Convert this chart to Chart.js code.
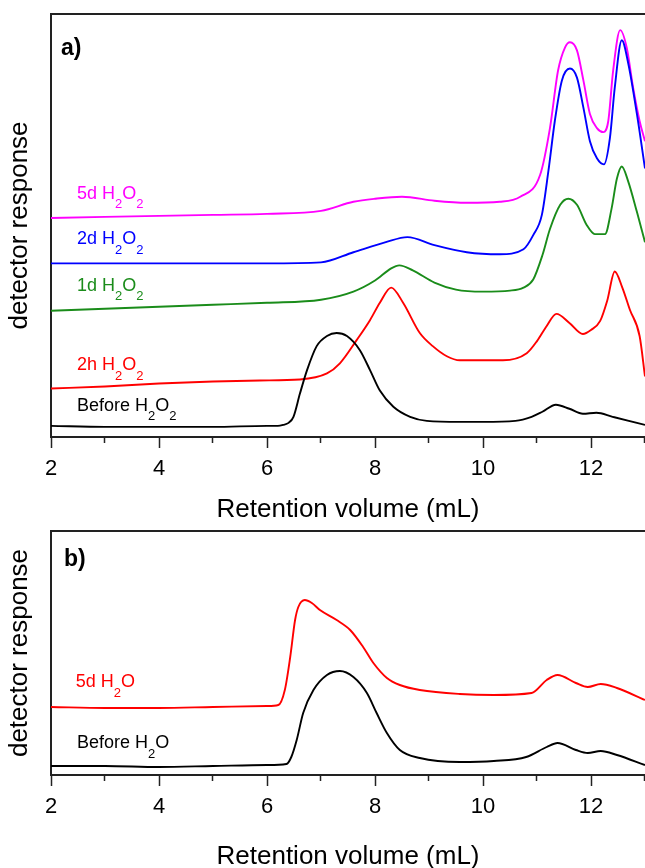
<!DOCTYPE html>
<html>
<head>
<meta charset="utf-8">
<script src="https://cdn.jsdelivr.net/npm/chart.js@4"></script>
<style>
  body { margin: 0; background: #fff; }
  canvas { position: absolute; left: 0; }
  #canvasA { top: 0; }
  #canvasB { top: 525px; }
</style>
</head>
<body>
<canvas id="canvasA" width="645" height="525"></canvas>
<canvas id="canvasB" width="645" height="343"></canvas>
<script>
// ---- panel a) : retention volume (mL) vs detector response (arb. units)
const xBeforeA = [2, 3, 4, 5, 6, 6.2, 6.3, 6.4, 6.49, 6.61, 6.74, 6.92, 7.11, 7.29, 7.48, 7.72, 7.91, 8.09, 8.34, 8.65, 8.96, 9.57, 10, 10.6, 10.9, 11.1, 11.35, 11.6, 11.85, 12.1, 12.4, 12.7, 13];
const yBeforeA = [11, 10, 10, 10, 11, 11, 12, 14, 20, 43, 66, 90, 100, 103, 100, 86, 66, 46, 30, 20, 16, 15, 15, 16, 20, 25, 32, 28, 23, 24, 20, 16, 12];

const x2hA = [2, 3, 4, 5, 5.87, 6.61, 7.11, 7.35, 7.66, 7.91, 8.09, 8.3, 8.52, 8.83, 9.07, 9.33, 9.57, 10.0, 10.37, 10.81, 11.0, 11.18, 11.36, 11.6, 11.85, 12.0, 12.17, 12.3, 12.44, 12.58, 12.72, 12.9, 13];
const y2hA = [48, 50, 53, 55, 56, 57, 63, 73, 96, 116, 133, 148, 133, 103, 90, 80, 76, 76, 76, 83, 95, 110, 122, 113, 102, 106, 115, 135, 164, 148, 126, 100, 60];

const x1dA = [2, 3, 4, 5, 6, 7, 7.6, 8.0, 8.3, 8.45, 8.7, 9.1, 9.5, 10, 10.5, 10.75, 10.93, 11.1, 11.24, 11.43, 11.58, 11.74, 11.92, 12.07, 12.26, 12.38, 12.48, 12.57, 12.69, 12.85, 13];
const y1dA = [125, 127, 129, 131, 133, 136, 144, 155, 167, 170, 165, 153, 146, 144, 145, 148, 156, 180, 206, 230, 236, 230, 210, 201, 201, 226, 256, 268, 253, 223, 193];

const x2dA = [2, 3, 4, 5, 6, 7, 7.6, 8.2, 8.6, 9.1, 9.7, 10.31, 10.75, 10.93, 11.09, 11.21, 11.33, 11.46, 11.61, 11.74, 11.86, 11.98, 12.11, 12.24, 12.35, 12.44, 12.57, 12.69, 12.85, 13];
const y2dA = [172, 172, 172, 172, 172, 173, 183, 193, 198, 190, 183, 181, 186, 200, 220, 263, 313, 353, 365, 356, 326, 293, 276, 270, 296, 346, 393, 370, 320, 266];

const x5dA = [2, 3, 4, 5, 6, 7, 7.6, 8.0, 8.5, 9.1, 9.7, 10.31, 10.69, 11.06, 11.24, 11.39, 11.52, 11.61, 11.74, 11.86, 11.98, 12.11, 12.23, 12.32, 12.41, 12.54, 12.66, 12.78, 12.9, 13];
const y5dA = [217, 218, 219, 220, 221, 224, 233, 236, 238, 234, 232, 233, 238, 260, 306, 363, 386, 391, 383, 353, 320, 306, 302, 313, 363, 403, 386, 346, 313, 293];

// ---- panel b)
const xBeforeB = [2, 3, 4, 5, 6, 6.36, 6.45, 6.55, 6.67, 6.86, 7.11, 7.35, 7.6, 7.85, 8.03, 8.22, 8.46, 8.83, 9.57, 10.2, 10.8, 11.18, 11.38, 11.72, 11.94, 12.18, 12.48, 13];
const yBeforeB = [9, 9, 8, 9, 10, 11, 18, 35, 62, 85, 100, 104, 98, 82, 62, 42, 25, 17, 13, 14, 18, 28, 32, 25, 22, 24, 20, 10];

const x5dB = [2, 3, 4, 5, 6, 6.21, 6.33, 6.43, 6.52, 6.58, 6.7, 6.83, 6.98, 7.29, 7.54, 7.78, 7.97, 8.22, 8.46, 8.83, 9.57, 10.2, 10.9, 11.18, 11.38, 11.72, 11.94, 12.18, 12.48, 13];
const y5dB = [68, 67, 67, 68, 69, 70, 85, 118, 155, 168, 175, 172, 165, 155, 145, 128, 112, 97, 90, 85, 81, 80, 82, 95, 100, 92, 88, 91, 87, 75];

const minorTicks = [3, 5, 7, 9, 11, 13];

// curve labels: text ("_2" = subscript), anchor x, anchor y
const labelsA = [
  { text: '5d H_2O_2', x: 2.48, y: 241, color: '#ff00ff' },
  { text: '2d H_2O_2', x: 2.48, y: 196, color: '#0000ff' },
  { text: '1d H_2O_2', x: 2.48, y: 150, color: '#1a8c1a' },
  { text: '2h H_2O_2', x: 2.48, y: 71, color: '#ff0000' },
  { text: 'Before H_2O_2', x: 2.48, y: 31, color: '#000000' }
];
const labelsB = [
  { text: '5d H_2O', x: 2.46, y: 93, color: '#ff0000' },
  { text: 'Before H_2O', x: 2.48, y: 32, color: '#000000' }
];

const pts = (xs, ys) => xs.map((v, i) => ({ x: v, y: ys[i] }));

const line = (xs, ys, color) => ({
  data: pts(xs, ys),
  borderColor: color,
  borderWidth: 1.9,
  pointRadius: 0,
  cubicInterpolationMode: 'monotone',
  fill: false
});

const FONT = '"Liberation Sans", Arial, sans-serif';

const decor = {
  id: 'decor',
  afterDraw(chart, args, opts) {
    const { ctx, chartArea: a } = chart;
    const x = chart.scales.x, y = chart.scales.y;
    ctx.save();
    // top frame line
    ctx.strokeStyle = '#222';
    ctx.lineWidth = 2;
    ctx.beginPath();
    ctx.moveTo(a.left - 1, a.top);
    ctx.lineTo(a.right, a.top);
    ctx.stroke();
    // minor ticks
    ctx.lineWidth = 1.5;
    ctx.beginPath();
    minorTicks.forEach(v => {
      const px = Math.round(x.getPixelForValue(v)) - 0.5;
      ctx.moveTo(px, a.bottom);
      ctx.lineTo(px, a.bottom + 6);
    });
    ctx.stroke();
    // panel letter
    ctx.fillStyle = '#000';
    ctx.textBaseline = 'middle';
    ctx.font = 'bold 23px ' + FONT;
    ctx.fillText(opts.letter, a.left + opts.letterDx, a.top + opts.letterDy);
    // curve labels with subscripts
    opts.labels.forEach(l => {
      let px = x.getPixelForValue(l.x);
      const py = y.getPixelForValue(l.y);
      ctx.fillStyle = l.color;
      l.text.split(/(_\d)/).forEach(seg => {
        if (!seg) return;
        if (seg[0] === '_') {
          ctx.font = '13px ' + FONT;
          ctx.fillText(seg.slice(1), px, py + 11);
          px += ctx.measureText(seg.slice(1)).width;
        } else {
          ctx.font = '18px ' + FONT;
          ctx.fillText(seg, px, py);
          px += ctx.measureText(seg).width;
        }
      });
    });
    ctx.restore();
  }
};

function options(yMax, padTop, xHeight, titlePadBottom, letter, letterDx, letterDy, labels) {
  return {
    responsive: false,
    animation: false,
    devicePixelRatio: 1,
    layout: { padding: { top: padTop, left: 0, right: 0, bottom: 0 } },
    plugins: {
      legend: { display: false },
      tooltip: { enabled: false },
      decor: { letter, letterDx, letterDy, labels }
    },
    scales: {
      x: {
        type: 'linear',
        min: 2,
        max: 13,
        border: { display: true, color: '#222', width: 2 },
        grid: { drawOnChartArea: false, drawTicks: true, tickLength: 11, tickWidth: 1.5, tickColor: '#222' },
        ticks: {
          stepSize: 2,
          includeBounds: false,
          autoSkip: false,
          maxRotation: 0,
          padding: 8,
          color: '#000',
          font: { family: FONT, size: 22 }
        },
        title: {
          display: true,
          text: 'Retention volume (mL)',
          color: '#000',
          font: { family: FONT, size: 26 },
          padding: { top: 0, bottom: titlePadBottom }
        },
        afterFit(scale) { scale.height = xHeight; }
      },
      y: {
        type: 'linear',
        min: 0,
        max: yMax,
        border: { display: true, color: '#222', width: 2 },
        grid: { display: false, drawTicks: false },
        ticks: { display: false },
        title: {
          display: true,
          text: 'detector response',
          color: '#000',
          font: { family: FONT, size: 26 },
          padding: { top: 4, bottom: 0 }
        },
        afterFit(scale) { scale.width = 51; }
      }
    }
  };
}

new Chart(document.getElementById('canvasA'), {
  type: 'line',
  data: {
    datasets: [
      line(xBeforeA, yBeforeA, '#000000'),
      line(x2hA, y2hA, '#ff0000'),
      line(x1dA, y1dA, '#1a8c1a'),
      line(x2dA, y2dA, '#0000ff'),
      line(x5dA, y5dA, '#ff00ff')
    ]
  },
  options: options(419, 14, 88, 0, 'a)', 10, 35, labelsA),
  plugins: [decor]
});

new Chart(document.getElementById('canvasB'), {
  type: 'line',
  data: {
    datasets: [
      line(xBeforeB, yBeforeB, '#000000'),
      line(x5dB, y5dB, '#ff0000')
    ]
  },
  options: options(244, 6, 93, -4, 'b)', 13, 29, labelsB),
  plugins: [decor]
});
</script>
</body>
</html>
